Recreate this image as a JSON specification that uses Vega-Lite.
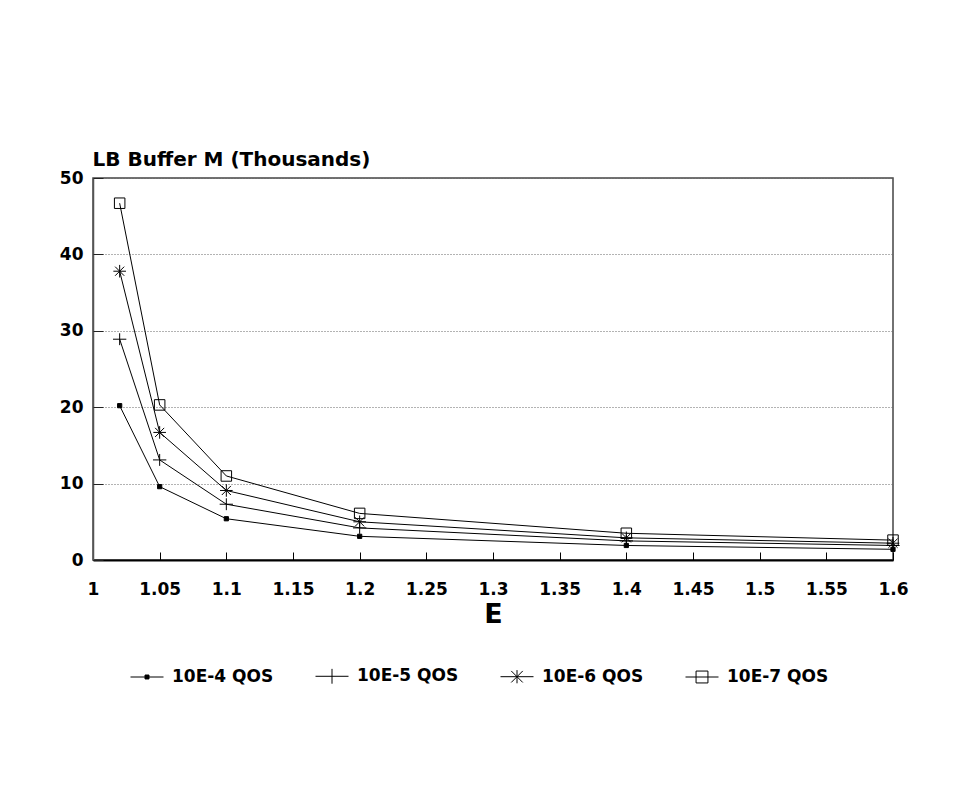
{
  "$schema": "https://vega.github.io/schema/vega-lite/v6.json",
  "width": 800,
  "height": 382,
  "autosize": "none",
  "padding": {"left": 93, "top": 178, "right": 62, "bottom": 236},
  "background": "white",
  "config": {
    "view": {"stroke": "#444", "strokeWidth": 1.5},
    "axis": {"labelFlush": false, "labelOverlap": false}
  },
  "data": {
    "values": [
      {"E": 1.02, "M": 20.2, "series": "10E-4 QOS"},
      {"E": 1.05, "M": 9.6, "series": "10E-4 QOS"},
      {"E": 1.1, "M": 5.4, "series": "10E-4 QOS"},
      {"E": 1.2, "M": 3.1, "series": "10E-4 QOS"},
      {"E": 1.4, "M": 1.9, "series": "10E-4 QOS"},
      {"E": 1.6, "M": 1.4, "series": "10E-4 QOS"},
      {"E": 1.02, "M": 28.9, "series": "10E-5 QOS"},
      {"E": 1.05, "M": 13.1, "series": "10E-5 QOS"},
      {"E": 1.1, "M": 7.3, "series": "10E-5 QOS"},
      {"E": 1.2, "M": 4.2, "series": "10E-5 QOS"},
      {"E": 1.4, "M": 2.5, "series": "10E-5 QOS"},
      {"E": 1.6, "M": 1.9, "series": "10E-5 QOS"},
      {"E": 1.02, "M": 37.8, "series": "10E-6 QOS"},
      {"E": 1.05, "M": 16.7, "series": "10E-6 QOS"},
      {"E": 1.1, "M": 9.1, "series": "10E-6 QOS"},
      {"E": 1.2, "M": 5.0, "series": "10E-6 QOS"},
      {"E": 1.4, "M": 2.9, "series": "10E-6 QOS"},
      {"E": 1.6, "M": 2.2, "series": "10E-6 QOS"},
      {"E": 1.02, "M": 46.7, "series": "10E-7 QOS"},
      {"E": 1.05, "M": 20.3, "series": "10E-7 QOS"},
      {"E": 1.1, "M": 11.0, "series": "10E-7 QOS"},
      {"E": 1.2, "M": 6.1, "series": "10E-7 QOS"},
      {"E": 1.4, "M": 3.5, "series": "10E-7 QOS"},
      {"E": 1.6, "M": 2.6, "series": "10E-7 QOS"}
    ]
  },
  "layer": [
    {
      "mark": {"type": "line", "color": "black", "strokeWidth": 1},
      "encoding": {
        "x": {
          "field": "E", "type": "quantitative",
          "scale": {"domain": [1, 1.6], "nice": false, "zero": false},
          "axis": {
            "title": "E",
            "values": [1, 1.05, 1.1, 1.15, 1.2, 1.25, 1.3, 1.35, 1.4, 1.45, 1.5, 1.55, 1.6],
            "format": "~r",
            "grid": false,
            "ticks": false,
            "domainColor": "black", "domainWidth": 2,
            "labelPadding": 21,
            "labelFont": "DejaVu Sans", "labelFontWeight": "bold", "labelFontSize": 17, "labelColor": "black",
            "titleFont": "DejaVu Sans", "titleFontWeight": "bold", "titleFontSize": 27, "titleColor": "black",
            "titlePadding": 4
          }
        },
        "y": {
          "field": "M", "type": "quantitative",
          "scale": {"domain": [0, 50], "nice": false},
          "axis": {
            "title": "LB Buffer M (Thousands)",
            "values": [0, 10, 20, 30, 40, 50],
            "format": "d",
            "grid": true, "gridDash": [1, 2], "gridColor": "#666", "gridWidth": 1,
            "ticks": false,
            "domainColor": "#555", "domainWidth": 1.5,
            "labelPadding": 10,
            "labelFont": "DejaVu Sans", "labelFontWeight": "bold", "labelFontSize": 17, "labelColor": "black",
            "titleFont": "DejaVu Sans", "titleFontWeight": "bold", "titleFontSize": 20, "titleColor": "black",
            "titleAngle": 0, "titleX": -1, "titleY": -13, "titleAlign": "left", "titleBaseline": "alphabetic"
          }
        },
        "detail": {"field": "series"}
      }
    },
    {
      "mark": {"type": "point", "stroke": "black", "strokeWidth": 1, "size": 196, "opacity": 1},
      "encoding": {
        "x": {"field": "E", "type": "quantitative", "axis": null},
        "y": {"field": "M", "type": "quantitative", "axis": null},
        "shape": {
          "field": "series",
          "scale": {
            "domain": ["10E-4 QOS", "10E-5 QOS", "10E-6 QOS", "10E-7 QOS"],
            "range": [
              "M-0.3,-0.3H0.3V0.3H-0.3Z",
              "M-0.95,0H0.95M0,-0.85V0.85",
              "M-0.9,0H0.9M0,-0.9V0.9M-0.65,-0.65L0.65,0.65M-0.65,0.65L0.65,-0.65",
              "M-0.75,-0.75H0.75V0.75H-0.75Z"
            ]
          },
          "legend": null
        },
        "fill": {
          "field": "series",
          "scale": {
            "domain": ["10E-4 QOS", "10E-5 QOS", "10E-6 QOS", "10E-7 QOS"],
            "range": ["black", "transparent", "transparent", "transparent"]
          },
          "legend": null
        }
      }
    },
    {
      "mark": {"type": "point", "strokeWidth": 1, "size": 1089, "opacity": 0},
      "encoding": {
        "x": {
          "field": "E", "type": "quantitative",
          "axis": {
            "orient": "top", "offset": -382,
            "values": [1, 1.05, 1.1, 1.15, 1.2, 1.25, 1.3, 1.35, 1.4, 1.45, 1.5, 1.55, 1.6],
            "labels": true, "labelOpacity": 0, "labelFontSize": 8, "domain": false, "grid": false, "title": null,
            "ticks": true, "tickSize": 8, "tickColor": "black", "tickWidth": 1
          }
        },
        "y": {
          "field": "M", "type": "quantitative",
          "axis": {
            "orient": "right", "offset": -800,
            "values": [0, 10, 20, 30, 40, 50],
            "labels": true, "labelOpacity": 0, "labelFontSize": 8, "domain": false, "grid": false, "title": null,
            "ticks": true, "tickSize": 10, "tickColor": "#222", "tickWidth": 1
          }
        },
        "shape": {
          "field": "series",
          "scale": {
            "domain": ["10E-4 QOS", "10E-5 QOS", "10E-6 QOS", "10E-7 QOS"],
            "range": [
              "M-1,0H1M-0.12,-0.12H0.12V0.12H-0.12Z",
              "M-1,0H1M0,-0.45V0.45",
              "M-1,0H1M0,-0.4V0.4M-0.35,-0.35L0.35,0.35M-0.35,0.35L0.35,-0.35",
              "M-1,0H1M-0.36,-0.36H0.36V0.36H-0.36Z"
            ]
          },
          "legend": {
            "orient": "none", "legendX": 37, "legendY": 481,
            "direction": "horizontal", "columns": 4, "title": null,
            "labelFont": "DejaVu Sans", "labelFontWeight": "bold", "labelFontSize": 17, "labelColor": "black",
            "labelOffset": 8, "columnPadding": 39, "labelLimit": 300,
            "symbolSize": 1089, "symbolStrokeWidth": 1, "symbolOpacity": 1, "padding": 0
          }
        },
        "fill": {
          "field": "series",
          "scale": {
            "domain": ["10E-4 QOS", "10E-5 QOS", "10E-6 QOS", "10E-7 QOS"],
            "range": ["black", "transparent", "transparent", "transparent"]
          },
          "legend": {
            "orient": "none", "legendX": 37, "legendY": 481,
            "direction": "horizontal", "columns": 4, "title": null,
            "labelFont": "DejaVu Sans", "labelFontWeight": "bold", "labelFontSize": 17, "labelColor": "black",
            "labelOffset": 8, "columnPadding": 39, "labelLimit": 300,
            "symbolSize": 1089, "symbolStrokeWidth": 1, "symbolOpacity": 1, "padding": 0
          }
        },
        "stroke": {
          "field": "series",
          "scale": {
            "domain": ["10E-4 QOS", "10E-5 QOS", "10E-6 QOS", "10E-7 QOS"],
            "range": ["black", "black", "black", "black"]
          },
          "legend": {
            "orient": "none", "legendX": 37, "legendY": 481,
            "direction": "horizontal", "columns": 4, "title": null,
            "labelFont": "DejaVu Sans", "labelFontWeight": "bold", "labelFontSize": 17, "labelColor": "black",
            "labelOffset": 8, "columnPadding": 39, "labelLimit": 300,
            "symbolSize": 1089, "symbolStrokeWidth": 1, "symbolOpacity": 1, "padding": 0
          }
        }
      }
    }
  ],
  "resolve": {
    "scale": {"shape": "independent", "fill": "independent", "stroke": "independent"},
    "axis": {"x": "independent", "y": "independent"}
  }
}
